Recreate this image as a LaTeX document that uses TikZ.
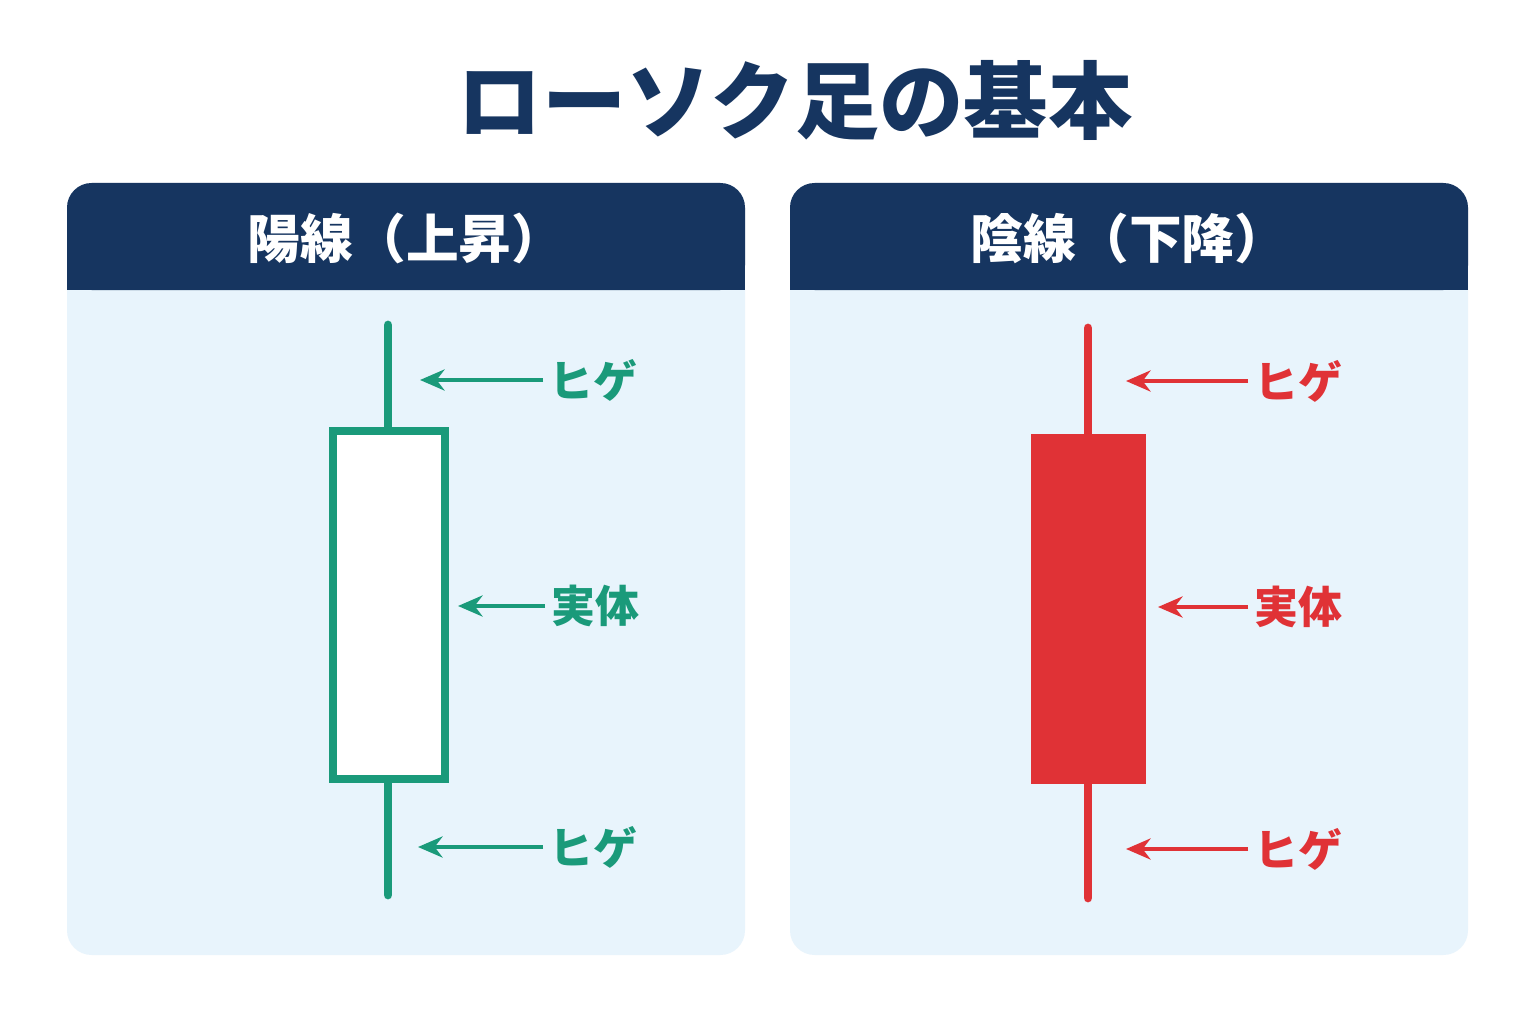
\documentclass[tikz,border=0pt]{standalone}
\usepackage{fontspec}
\setmainfont{Noto Sans CJK JP}
\newfontfamily\jpbold{Noto Sans CJK JP}[BoldFont=*,FakeBold=0]
\usetikzlibrary{arrows.meta}
\definecolor{navy}{HTML}{163560}
\definecolor{panelbg}{HTML}{E8F4FC}
\definecolor{upgreen}{HTML}{1A9A7A}
\definecolor{downred}{HTML}{E03236}
\tikzset{
  panel/.style={fill=panelbg, rounded corners=14},
  header/.style={fill=navy, rounded corners=14},
  headtext/.style={text=white, font=\fontsize{30}{36}\selectfont\bfseries},
  wick/.style={line width=5, line cap=round},
  arrow/.style={line width=2.2, -{Stealth[length=14,width=12]}},
  lbl/.style={font=\fontsize{25}{30}\selectfont\bfseries, anchor=west}
}
\begin{document}
\begin{tikzpicture}[x=0.02cm, y=-0.02cm]
\useasboundingbox (0,0) rectangle (1536,1024);
\fill[white] (0,0) rectangle (1536,1024);

% title
\node[text=navy, font=\fontsize{48}{56}\selectfont\bfseries] (title) at (795,100) {ローソク足の基本};

% panels
\fill[panel] (67,183) rectangle (745,955);
\fill[panel] (790,183) rectangle (1468,955);
\fill[header] (67,183) rectangle (745,290);
\fill[navy] (67,250) rectangle (745,290);
\fill[header] (790,183) rectangle (1468,290);
\fill[navy] (790,250) rectangle (1468,290);
\node[headtext] (uphead) at (406,238) {陽線（上昇）};
\node[headtext] (downhead) at (1129,238) {陰線（下降）};

% bullish candle
\draw[upgreen, wick] (388,325) -- (388,895);
\draw[upgreen, fill=white, line width=4] (333,431) rectangle (445,779);
\node[lbl, text=upgreen] (upwick1) at (543,380) {ヒゲ};
\node[lbl, text=upgreen] (upbody) at (545,606) {実体};
\node[lbl, text=upgreen] (upwick2) at (543,847) {ヒゲ};
\coordinate (uptip1) at (420,380);
\coordinate (uptip2) at (458,606);
\coordinate (uptip3) at (418,847);
\draw[upgreen, arrow] (upwick1.west) -- (uptip1);
\draw[upgreen, arrow] (upbody.west) -- (uptip2);
\draw[upgreen, arrow] (upwick2.west) -- (uptip3);

% bearish candle
\draw[downred, wick] (1088,328) -- (1088,898);
\fill[downred] (1031,434) rectangle (1146,784);
\node[lbl, text=downred] (downwick1) at (1248,381) {ヒゲ};
\node[lbl, text=downred] (downbody) at (1248,607) {実体};
\node[lbl, text=downred] (downwick2) at (1248,849) {ヒゲ};
\coordinate (downtip1) at (1126,381);
\coordinate (downtip2) at (1158,607);
\coordinate (downtip3) at (1126,849);
\draw[downred, arrow] (downwick1.west) -- (downtip1);
\draw[downred, arrow] (downbody.west) -- (downtip2);
\draw[downred, arrow] (downwick2.west) -- (downtip3);
\end{tikzpicture}
\end{document}
